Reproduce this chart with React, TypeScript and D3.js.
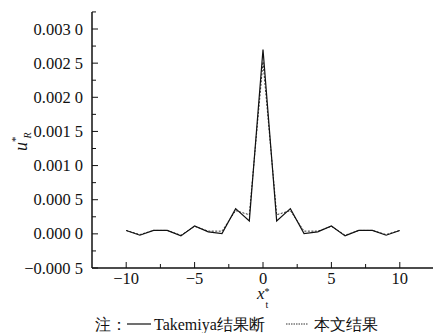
import React from "react";
import { scaleLinear, line } from "d3";

// x positions (integer offsets)
const xs = [-10, -9, -8, -7, -6, -5, -4, -3, -2, -1, 0, 1, 2, 3, 4, 5, 6, 7, 8, 9, 10];
// Takemiya result (solid)
const takemiya = [
  0.00005, -0.00002, 0.00005, 0.00005, -0.00003, 0.000115, 0.00003, 0.000005, 0.00037, 0.00019,
  0.00270,
  0.00019, 0.00037, 0.000005, 0.00003, 0.000115, -0.00003, 0.00005, 0.00005, -0.00002, 0.00005,
];
// this paper's result (dotted)
const present = [
  0.00005, -0.00001, 0.00005, 0.00005, -0.00002, 0.00011, 0.00004, 0.00004, 0.00034, 0.00028,
  0.00252,
  0.00028, 0.00034, 0.00004, 0.00004, 0.00011, -0.00002, 0.00005, 0.00005, -0.00001, 0.00005,
];
const yTicks = [-0.0005, 0, 0.0005, 0.001, 0.0015, 0.002, 0.0025, 0.003];
const yMinor = [-0.00025, 0.00025, 0.00075, 0.00125, 0.00175, 0.00225, 0.00275, 0.00325];
const xTicks = [-10, -5, 0, 5, 10];
const xMinor = [-7.5, -2.5, 2.5, 7.5];

const fmtY = (v: number) => {
  const s = Math.abs(v).toFixed(4);
  return (v < 0 ? "\u2212" : "") + s.slice(0, -1) + " " + s.slice(-1);
};
const fmtX = (v: number) => (v < 0 ? "\u2212" + Math.abs(v) : String(v));

const W = 433;
const H = 333;
const left = 92;
const top = 12;
const bottom = 268;
const font = "Liberation Serif";
const ink = "#111";

export default function App() {
  const x = scaleLinear().domain([-12.5, 12.5]).range([left, 434]);
  const y = scaleLinear().domain([-0.0005, 0.003]).range([bottom, 29]);
  const ln = line<number>()
    .x((_, i) => x(xs[i]))
    .y((d) => y(d));

  return (
    <svg
      width={W}
      height={H}
      style={{ position: "absolute", left: 0, top: 0, background: "#fff" }}
    >
      {/* y axis */}
      {yMinor.map((v) => (
        <line key={"ym" + v} x1={left} x2={left + 4} y1={y(v)} y2={y(v)} stroke={ink} />
      ))}
      {yTicks.map((v) => (
        <g key={"y" + v}>
          <line x1={left} x2={left + 6} y1={y(v)} y2={y(v)} stroke={ink} />
          <text
            x={left - 9}
            y={y(v)}
            dy="0.34em"
            textAnchor="end"
            fill={ink}
            style={{ fontFamily: font, fontSize: "16.5px" }}
          >
            {fmtY(v)}
          </text>
        </g>
      ))}
      <line x1={left} x2={left} y1={top} y2={bottom} stroke={ink} strokeWidth={1.5} />

      {/* x axis */}
      {xMinor.map((v) => (
        <line key={"xm" + v} x1={x(v)} x2={x(v)} y1={bottom} y2={bottom - 4} stroke={ink} />
      ))}
      {xTicks.map((v) => (
        <g key={"x" + v}>
          <line x1={x(v)} x2={x(v)} y1={bottom} y2={bottom - 6} stroke={ink} />
          <text
            x={x(v)}
            y={284}
            textAnchor="middle"
            fill={ink}
            style={{ fontFamily: font, fontSize: "16.5px" }}
          >
            {fmtX(v)}
          </text>
        </g>
      ))}
      <line x1={left} x2={434} y1={bottom} y2={bottom} stroke={ink} strokeWidth={1.5} />

      {/* series */}
      <path d={ln(present) || ""} fill="none" stroke="#333" strokeWidth={1} strokeDasharray="2,1.5" />
      <path d={ln(takemiya) || ""} fill="none" stroke={ink} strokeWidth={1.2} />

      {/* y label */}
      <text transform="translate(27,151) rotate(-90)" fill={ink} style={{ fontFamily: font, fontSize: "18px" }}>
        <tspan fontStyle="italic">u</tspan>
        <tspan dy={-8} style={{ fontSize: "11px" }}>*</tspan>
        <tspan dy={12} dx={-2} fontStyle="italic" style={{ fontSize: "10px" }}>R</tspan>
      </text>

      {/* x label */}
      <text x={257} y={299} fill={ink} style={{ fontFamily: font, fontSize: "17px" }}>
        <tspan fontStyle="italic">x</tspan>
        <tspan dy={-4} style={{ fontSize: "10px" }}>*</tspan>
        <tspan dy={13} dx={-4} style={{ fontSize: "10px" }}>t</tspan>
      </text>

      {/* legend */}
      <g fill={ink} style={{ fontFamily: font, fontSize: "16px" }}>
        <text x={95} y={330}>注：</text>
        <line x1={127} x2={151} y1={324} y2={324} stroke={ink} strokeWidth={1.2} />
        <text x={154} y={330}>Takemiya结果断</text>
        <line x1={286} x2={308} y1={324} y2={324} stroke="#333" strokeWidth={1} strokeDasharray="1.5,1" />
        <text x={314} y={330}>本文结果</text>
      </g>
    </svg>
  );
}
